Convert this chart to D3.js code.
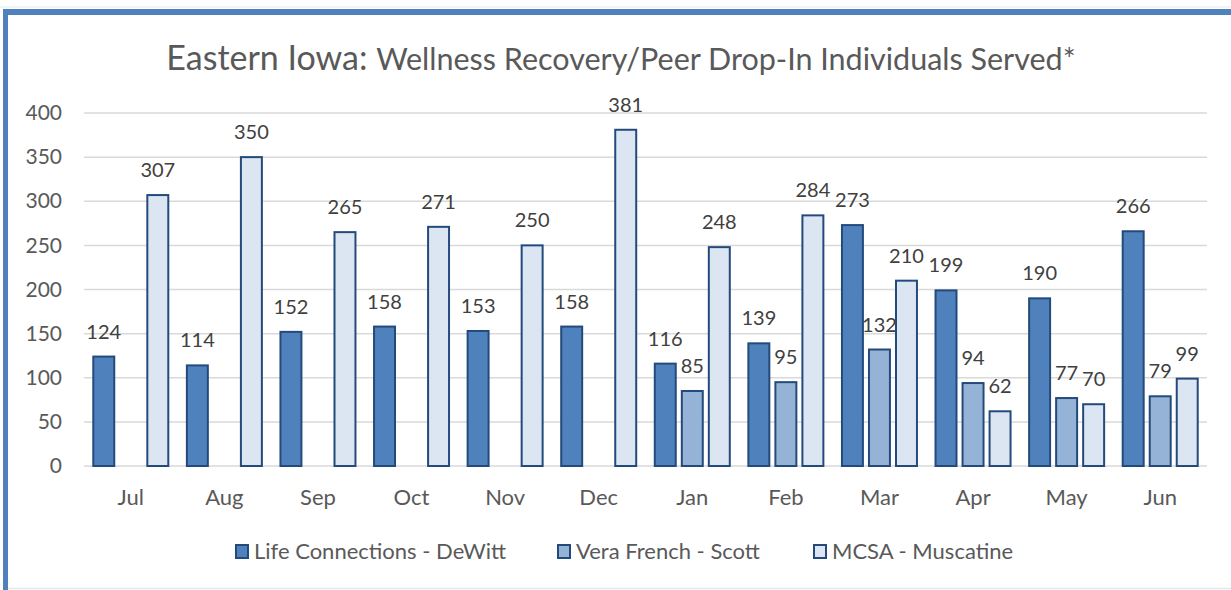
<!DOCTYPE html>
<html>
<head>
<meta charset="utf-8">
<script src="https://cdn.jsdelivr.net/npm/d3@7"></script>
<style>
  body { margin: 0; background: #fff; }
  svg { display: block; font-family: Lato, "Open Sans", sans-serif; }
</style>
</head>
<body>
<div id="chart"></div>
<script>
// data
const months = ["Jul", "Aug", "Sep", "Oct", "Nov", "Dec", "Jan", "Feb", "Mar", "Apr", "May", "Jun"];
const seriesNames = ["Life Connections - DeWitt", "Vera French - Scott", "MCSA - Muscatine"];
const dewitt = [124, 114, 152, 158, 153, 158, 116, 139, 273, 199, 190, 266];
const veraFrench = [null, null, null, null, null, null, 85, 95, 132, 94, 77, 79];
const mcsa = [307, 350, 265, 271, 250, 381, 248, 284, 210, 62, 70, 99];
const yTicks = [0, 50, 100, 150, 200, 250, 300, 350, 400];

const colors = ["#4f81bd", "#95b3d7", "#dce6f2"];
const strokeCol = "#244a7c";

const W = 1231, H = 590;
const margin = { top: 113, right: 24, bottom: 124, left: 84 };
const width = W - margin.left - margin.right;
const height = H - margin.top - margin.bottom;

const svg = d3.select("#chart").append("svg")
  .attr("width", W)
  .attr("height", H);

// frame
svg.append("rect").attr("x", 0).attr("y", 0).attr("width", W).attr("height", H).attr("fill", "#fff");
svg.append("line").attr("x1", 0).attr("x2", W).attr("y1", 7).attr("y2", 7)
  .attr("stroke", "#e3e8ef").attr("stroke-width", 1);
svg.append("rect").attr("x", 3).attr("y", 9).attr("width", W - 3).attr("height", 6).attr("fill", "#4f81bd");
svg.append("rect").attr("x", 3).attr("y", 9).attr("width", 5).attr("height", H - 9).attr("fill", "#4f81bd");
svg.append("line").attr("x1", 8).attr("x2", W).attr("y1", 588.5).attr("y2", 588.5)
  .attr("stroke", "#e3e8ef").attr("stroke-width", 1.5);

// title
const title = svg.append("text")
  .attr("x", 621).attr("y", 70)
  .attr("text-anchor", "middle")
  .attr("fill", "#595959");
title.append("tspan").attr("font-size", 34).text("Eastern Iowa: ");
title.append("tspan").attr("font-size", 30.5).text("Wellness Recovery/Peer Drop-In Individuals Served*");

const g = svg.append("g")
  .attr("transform", "translate(" + margin.left + "," + margin.top + ")");

let x0 = d3.scaleBand()
  .domain(months)
  .range([0, width])
  .paddingInner(0)
  .paddingOuter(0);

const groupW = 77;
let x1 = d3.scaleBand()
  .domain(d3.range(3))
  .range([0, groupW])
  .paddingInner(0.15);

let y = d3.scaleLinear()
  .domain([0, 400])
  .range([height, 0]);

// gridlines
g.append("g")
  .selectAll("line")
  .data(yTicks)
  .enter().append("line")
  .attr("x1", 0).attr("x2", width)
  .attr("y1", d => y(d)).attr("y2", d => y(d))
  .attr("stroke", "#d9d9d9")
  .attr("stroke-width", 1.5);

// y labels
let yAxis = g.append("g")
  .call(d3.axisLeft(y).tickValues(yTicks).tickSize(0).tickPadding(22));
yAxis.select(".domain").remove();
yAxis.selectAll("text")
  .attr("font-size", 21)
  .attr("fill", "#595959")
  .attr("font-family", "Lato, 'Open Sans', sans-serif");

// x labels
let xAxis = g.append("g")
  .attr("transform", "translate(0," + height + ")")
  .call(d3.axisBottom(x0).tickSize(0).tickPadding(23));
xAxis.select(".domain").remove();
xAxis.selectAll("text")
  .attr("font-size", 22)
  .attr("fill", "#595959")
  .attr("font-family", "Lato, 'Open Sans', sans-serif");

const allSeries = [dewitt, veraFrench, mcsa];
let rows = [];
allSeries.forEach(function (vals, si) {
  vals.forEach(function (v, mi) {
    if (v !== null) rows.push({ s: si, m: months[mi], v: v });
  });
});

function barX(d) {
  return x0(d.m) + (x0.bandwidth() - groupW) / 2 + x1(d.s);
}

g.selectAll(".bar")
  .data(rows)
  .enter().append("rect")
  .attr("class", "bar")
  .attr("x", d => barX(d) + 1)
  .attr("width", x1.bandwidth() - 2)
  .attr("y", d => y(d.v))
  .attr("height", d => height - y(d.v))
  .attr("fill", d => colors[d.s])
  .attr("stroke", strokeCol)
  .attr("stroke-width", 2);

g.selectAll(".lbl")
  .data(rows)
  .enter().append("text")
  .attr("class", "lbl")
  .attr("x", d => barX(d) + x1.bandwidth() / 2)
  .attr("y", d => y(d.v) - 18)
  .attr("text-anchor", "middle")
  .attr("font-size", 20)
  .attr("fill", "#404040")
  .text(d => d.v);

// legend
const legendX = [236, 558, 814];
let legend = svg.append("g");
seriesNames.forEach(function (name, i) {
  legend.append("rect")
    .attr("x", legendX[i]).attr("y", 545)
    .attr("width", 12).attr("height", 13)
    .attr("fill", colors[i])
    .attr("stroke", strokeCol)
    .attr("stroke-width", 2);
  legend.append("text")
    .attr("x", legendX[i] + 18).attr("y", 559)
    .attr("font-size", 22)
    .attr("fill", "#595959")
    .text(name);
});
</script>
</body>
</html>
